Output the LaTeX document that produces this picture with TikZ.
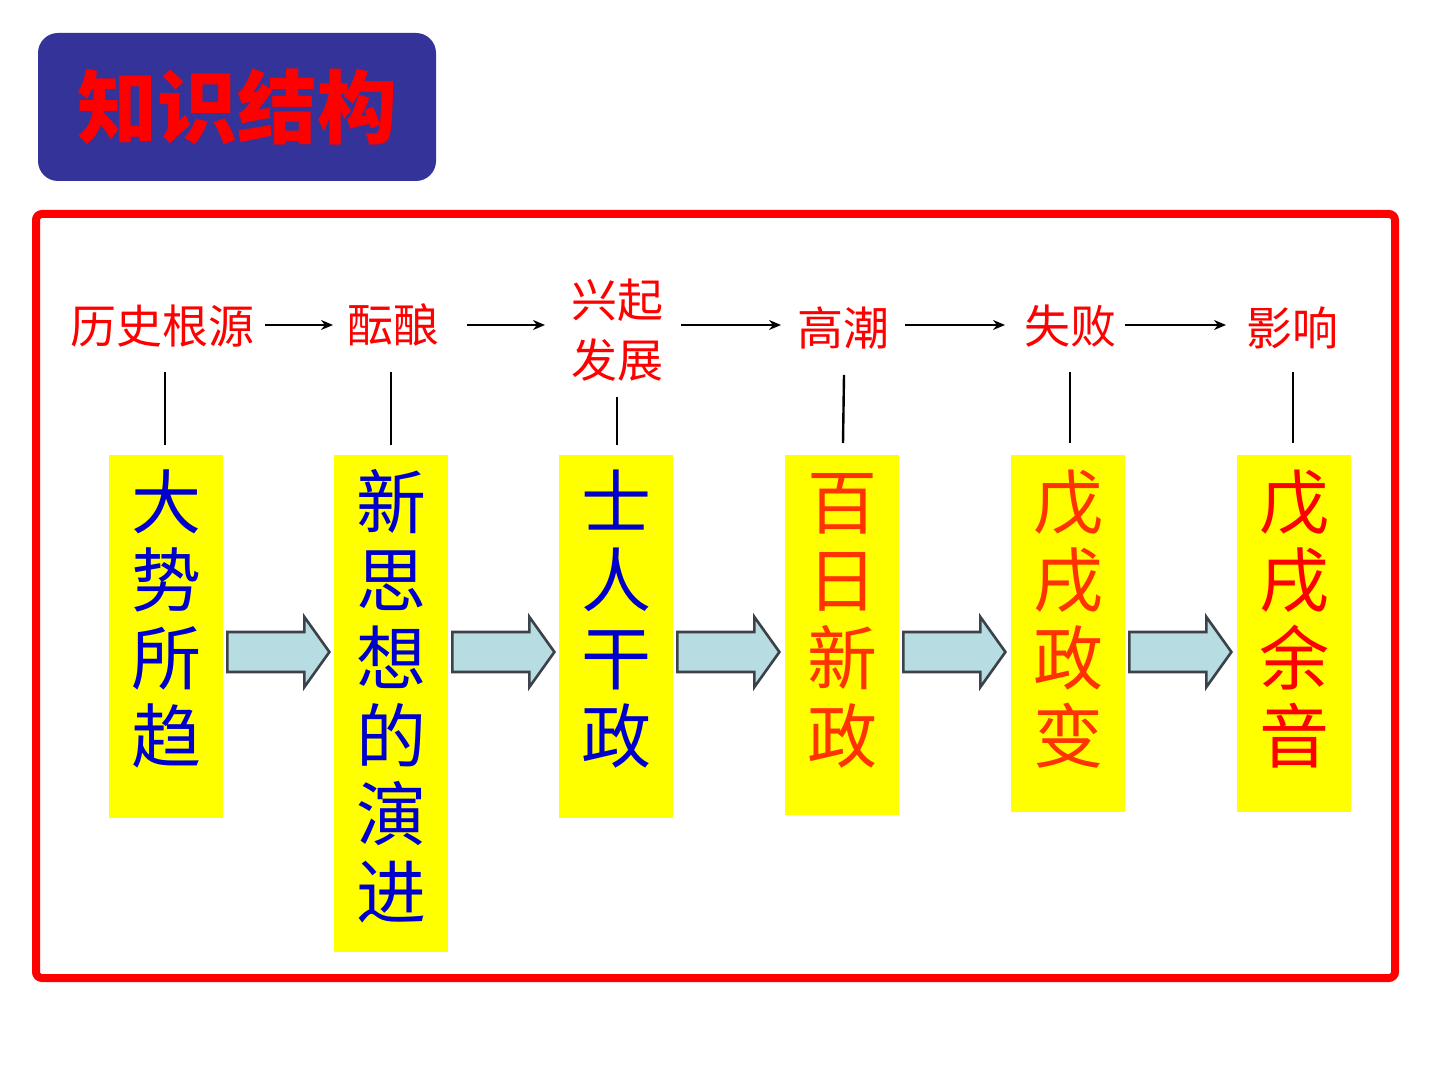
\documentclass[tikz,border=0pt]{standalone}
\usepackage{fontspec}
\usetikzlibrary{arrows.meta,calc,positioning}
\newfontfamily\cjk{Noto Sans CJK SC}
\definecolor{titleblue}{RGB}{51,51,153}
\definecolor{boxyellow}{RGB}{255,255,0}
\definecolor{textblue}{RGB}{0,0,204}
\definecolor{textorange}{RGB}{255,51,0}
\definecolor{arrowfill}{RGB}{183,221,226}
\definecolor{arrowline}{RGB}{60,66,72}
\begin{document}
\begin{tikzpicture}[x=0.5pt,y=-0.5pt]
\tikzset{
  stage/.style={font=\cjk\fontsize{23}{30}\selectfont,text=red,inner sep=0pt,align=center},
  eventbox/.style 2 args={fill=boxyellow,inner sep=0pt,minimum width=57pt,anchor=north,align=center,
    text height=#1,text depth=#2,font=\cjk\fontsize{35}{39}\selectfont},
  blockarr/.style={draw=arrowline,fill=arrowfill,line width=1.3pt,line join=miter},
}
\useasboundingbox (0,0) rectangle (1440,1080);
% title
\node[fill=titleblue,rounded corners=10pt,minimum width=199pt,minimum height=74pt,inner sep=0pt,
  font=\cjk\bfseries\fontsize{40}{40}\selectfont,text=red] (title) at (237,107) {知识结构};
\draw[red,line width=4pt,rounded corners=3pt] (36,214) rectangle (1395,978);
% stages on top
\node[stage] (s1) at (162,326) {历史根源};
\node[stage] (s2) at (393,325) {酝酿};
\node[stage] (s3) at (617,330) {兴起\\发展};
\node[stage] (s4) at (843,328) {高潮};
\node[stage] (s5) at (1070,326) {失败};
\node[stage] (s6) at (1292,328) {影响};
\foreach \a/\b/\p/\q in {s1/s2/265/333,s2/s3/467/545,s3/s4/681/781,s4/s5/905/1005,s5/s6/1125/1226}{
  \draw[-{Stealth[length=6pt,width=5pt]},line width=1.3pt] (\p,325) -- (\q,325);}
% event boxes
\node[eventbox={153.5pt}{28pt},text=textblue] (e1) at (166,455) {大\\势\\所\\趋};
\node[eventbox={231.5pt}{17pt},text=textblue] (e2) at (391,455) {新\\思\\想\\的\\演\\进};
\node[eventbox={153.5pt}{28pt},text=textblue] (e3) at (616,455) {士\\人\\干\\政};
\node[eventbox={153.5pt}{26.5pt},text=textorange] (e4) at (842,455) {百\\日\\新\\政};
\node[eventbox={153.5pt}{25pt},text=textorange] (e5) at (1068,455) {戊\\戌\\政\\变};
\node[eventbox={153.5pt}{25pt},text=red] (e6) at (1294,455) {戊\\戌\\余\\音};
% ties
\draw[line width=1.2pt] (165,372) -- (165,445);
\draw[line width=1.2pt] (391,372) -- (391,445);
\draw[line width=1.2pt] (617,397) -- (617,445);
\draw[line width=1.2pt] (844,375) -- (843,443);
\draw[line width=1.2pt] (1070,372) -- (1070,443);
\draw[line width=1.2pt] (1293,372) -- (1293,443);
% block arrows
\coordinate (mid) at (0,652);
\foreach \a in {e1,e2,e3,e4,e5}{
  \draw[blockarr] ($(\a.east|-mid)+(4,-20)$) -- ++(77,0) -- ++(0,-15) -- ++(25,35)
    -- ++(-25,35) -- ++(0,-15) -- ++(-77,0) -- cycle;}
\end{tikzpicture}
\end{document}
